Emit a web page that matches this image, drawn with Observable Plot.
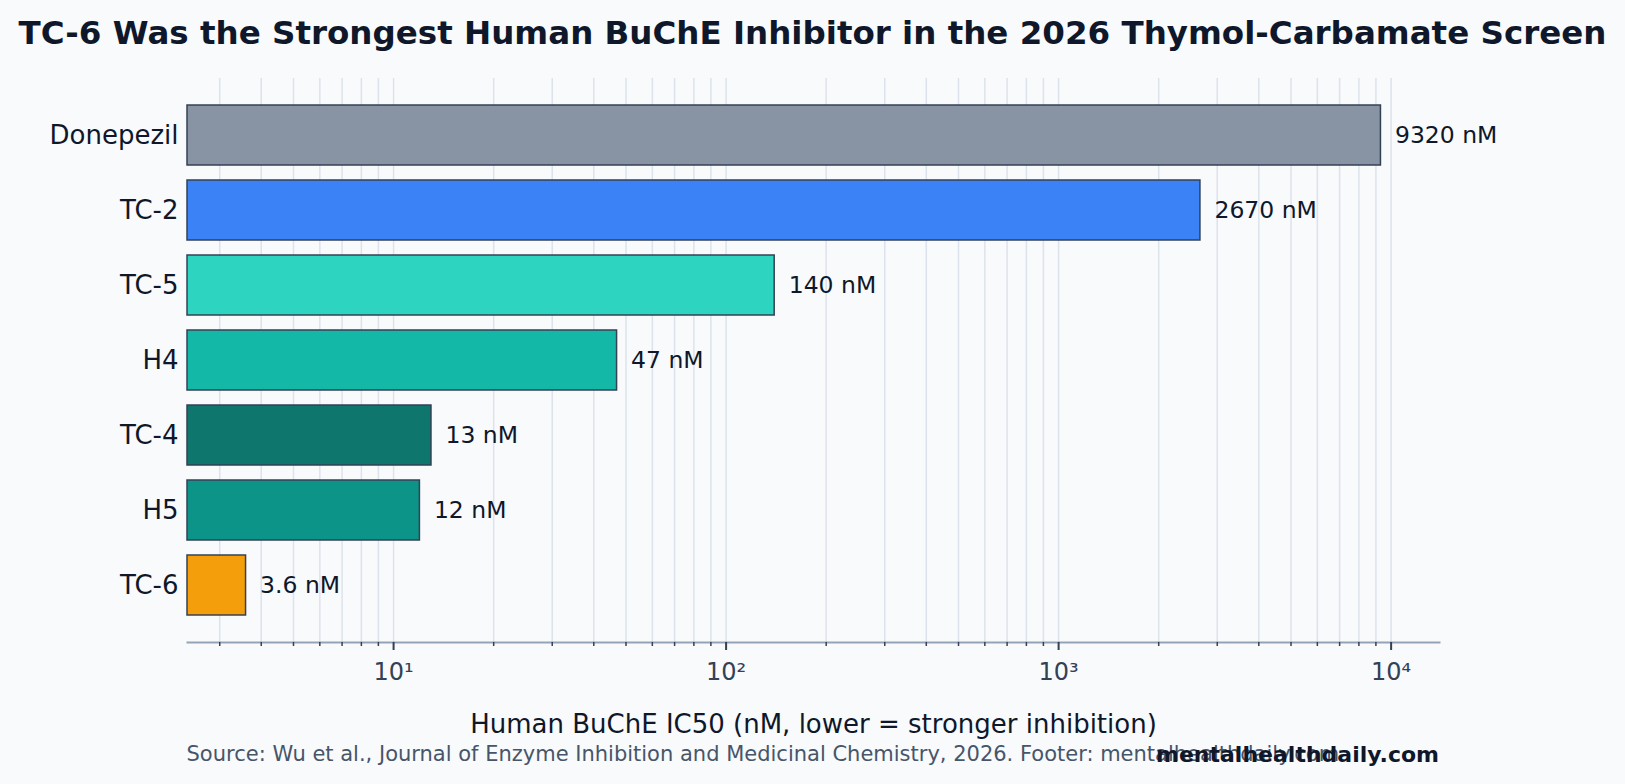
<!DOCTYPE html>
<html>
<head>
<meta charset="utf-8">
<script src="https://cdn.jsdelivr.net/npm/d3@7"></script>
<script src="https://cdn.jsdelivr.net/npm/@observablehq/plot@0.6"></script>
<style>
  html, body { margin: 0; padding: 0; background: #f8fafc; }
  #wrap { position: relative; width: 1625px; height: 784px; background: #f8fafc; font-family: "DejaVu Sans", sans-serif; overflow: hidden; }
  .t { position: absolute; line-height: 1; white-space: nowrap; }
  #title { left: 0; width: 1625px; text-align: center; top: 16.8px; font-size: 32.5px; font-weight: bold; color: #0f172a; }
  #chart { position: absolute; left: 0; top: 60px; }
  #source { left: 186.5px; top: 744.2px; font-size: 21px; color: #475569; }
  #mark { right: 186px; top: 744.4px; font-size: 22px; font-weight: bold; color: #0f172a; }
</style>
</head>
<body>
<div id="wrap">
  <div id="title" class="t"></div>
  <div id="chart"></div>
  <div id="source" class="t"></div>
  <div id="mark" class="t"></div>
</div>
<script>
const titleText = "TC-6 Was the Strongest Human BuChE Inhibitor in the 2026 Thymol-Carbamate Screen";
const xLabel = "Human BuChE IC50 (nM, lower = stronger inhibition)";
const sourceText = "Source: Wu et al., Journal of Enzyme Inhibition and Medicinal Chemistry, 2026. Footer: mentalhealthdaily.com";
const watermark = "mentalhealthdaily.com";

const names = ["Donepezil", "TC-2", "TC-5", "H4", "TC-4", "H5", "TC-6"];
const values = [9320, 2670, 140, 47, 13, 12, 3.6];
const colors = ["#8893a3", "#3b82f6", "#2dd4bf", "#14b8a6", "#0f766e", "#0d9488", "#f59e0b"];

const majorTicks = [10, 100, 1000, 10000];
const majorTickLabels = ["10¹", "10²", "10³", "10⁴"];
const minorTicks = [3, 4, 5, 6, 7, 8, 9,
  20, 30, 40, 50, 60, 70, 80, 90,
  200, 300, 400, 500, 600, 700, 800, 900,
  2000, 3000, 4000, 5000, 6000, 7000, 8000, 9000];

document.getElementById("title").textContent = titleText;
document.getElementById("source").textContent = sourceText;
document.getElementById("mark").textContent = watermark;

const data = names.map((name, i) => ({name, value: values[i], color: colors[i]}));
const xMin = d3.min(values) / 1.5;
const xMax = d3.max(values) * 1.5;
const allTicks = minorTicks.concat(majorTicks);

const chart = Plot.plot({
  width: 1625,
  height: 680,
  marginTop: 18,
  marginBottom: 98,
  marginLeft: 187,
  marginRight: 186,
  style: {fontFamily: "DejaVu Sans", background: "transparent", overflow: "visible"},
  x: {type: "log", domain: [xMin, xMax]},
  y: {domain: names, paddingInner: 0.2, paddingOuter: 0.34},
  marks: [
    Plot.gridX(allTicks, {stroke: "#dde3ec", strokeOpacity: 1, strokeWidth: 1.5}),
    Plot.barX(data, {x1: xMin, x2: "value", y: "name", fill: "color", stroke: "#334155", strokeWidth: 1.5}),
    Plot.text(data, {x: "value", y: "name", text: d => `${d.value} nM`, dx: 14, textAnchor: "start", fontSize: 23.5, fill: "#0f172a"}),
    Plot.frame({anchor: "bottom", stroke: "#94a3b8", strokeWidth: 2}),
    Plot.axisX(majorTicks, {tickSize: 8, tickPadding: 12, strokeWidth: 2, stroke: "#334155", fill: "#334155", fontSize: 24,
      tickFormat: d => majorTickLabels[majorTicks.indexOf(d)], label: null}),
    Plot.axisX(minorTicks, {tickSize: 4, strokeWidth: 1.5, stroke: "#334155", tickFormat: () => "", label: null}),
    Plot.axisY({tickSize: 0, tickPadding: 9, fontSize: 26, fill: "#0f172a", label: null}),
    Plot.text([xLabel], {frameAnchor: "bottom", dy: 82, lineAnchor: "middle", fontSize: 26, fill: "#0f172a"})
  ]
});
document.getElementById("chart").appendChild(chart);
</script>
</body>
</html>
